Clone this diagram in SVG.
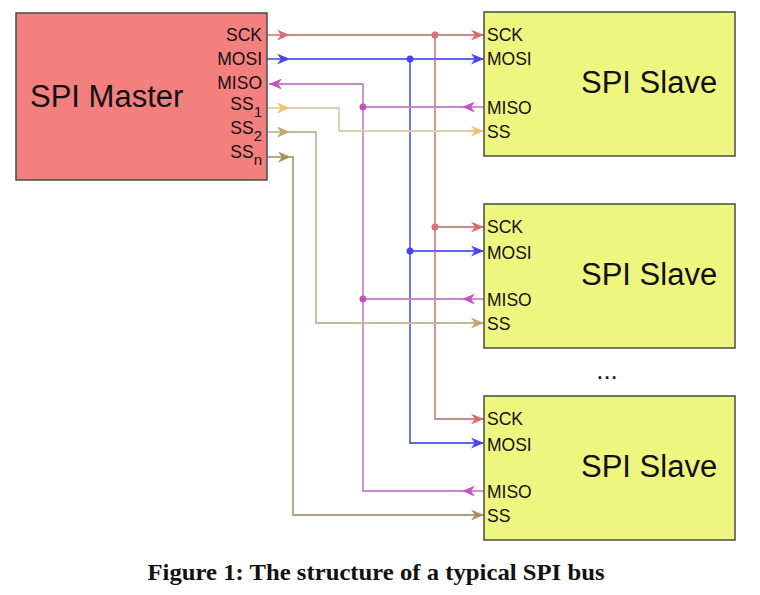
<svg xmlns="http://www.w3.org/2000/svg" width="760" height="595" viewBox="0 0 760 595">
<style>
.box{stroke:#4a4a4a;stroke-width:1.5}
.master{fill:#f47f7f}
.slave{fill:#eef67f}
.lbl{font-family:"Liberation Sans",Arial,sans-serif;font-size:17.5px;fill:#111}
.big{font-family:"Liberation Sans",Arial,sans-serif;font-size:31px;fill:#111}
.cap{font-family:"Liberation Serif","Times New Roman",serif;font-size:23.5px;font-weight:bold;fill:#111}
.w{fill:none;stroke-width:1.8}
.sck{stroke:#cf8a8a}.mosi{stroke:#6464f0}.miso{stroke:#c68ac8}
.ss1{stroke:#dccfa6}.ss2{stroke:#c8b89a}.ssn{stroke:#b0a07e}
</style>
<defs>
<marker id="aSck" viewBox="0 0 12 10" refX="12" refY="5" markerWidth="13" markerHeight="11" markerUnits="userSpaceOnUse" orient="auto"><path d="M0,0 L12,5 L0,10 L3.5,5 z" fill="#d87272"/></marker>
<marker id="aMosi" viewBox="0 0 12 10" refX="12" refY="5" markerWidth="13" markerHeight="11" markerUnits="userSpaceOnUse" orient="auto"><path d="M0,0 L12,5 L0,10 L3.5,5 z" fill="#4646f5"/></marker>
<marker id="aMiso" viewBox="0 0 12 10" refX="12" refY="5" markerWidth="13" markerHeight="11" markerUnits="userSpaceOnUse" orient="auto"><path d="M0,0 L12,5 L0,10 L3.5,5 z" fill="#c452c6"/></marker>
<marker id="aSs1" viewBox="0 0 12 10" refX="12" refY="5" markerWidth="13" markerHeight="11" markerUnits="userSpaceOnUse" orient="auto"><path d="M0,0 L12,5 L0,10 L3.5,5 z" fill="#efc472"/></marker>
<marker id="aSs2" viewBox="0 0 12 10" refX="12" refY="5" markerWidth="13" markerHeight="11" markerUnits="userSpaceOnUse" orient="auto"><path d="M0,0 L12,5 L0,10 L3.5,5 z" fill="#c4a46e"/></marker>
<marker id="aSsn" viewBox="0 0 12 10" refX="12" refY="5" markerWidth="13" markerHeight="11" markerUnits="userSpaceOnUse" orient="auto"><path d="M0,0 L12,5 L0,10 L3.5,5 z" fill="#a89060"/></marker>
</defs>

<g id="connectors">
  <!-- SCK -->
  <path class="w sck" d="M267,35 H290" marker-end="url(#aSck)"/>
  <path class="w sck" d="M290,35 H484" marker-end="url(#aSck)"/>
  <path class="w sck" d="M435,35 V419 H484" marker-end="url(#aSck)"/>
  <path class="w sck" d="M435,227 H484" marker-end="url(#aSck)"/>
  <circle cx="435" cy="35" r="3.5" fill="#d87272"/>
  <circle cx="435" cy="227" r="3.5" fill="#d87272"/>
  <!-- MOSI -->
  <path class="w mosi" d="M267,59 H290" marker-end="url(#aMosi)"/>
  <path class="w mosi" d="M290,59 H484" marker-end="url(#aMosi)"/>
  <path class="w mosi" d="M410,59 V443 H484" marker-end="url(#aMosi)"/>
  <path class="w mosi" d="M410,251 H484" marker-end="url(#aMosi)"/>
  <circle cx="410" cy="59" r="3.5" fill="#4646f5"/>
  <circle cx="410" cy="251" r="3.5" fill="#4646f5"/>
  <!-- MISO -->
  <path class="w miso" d="M484,107 H462" marker-end="url(#aMiso)"/>
  <path class="w miso" d="M462,107 H363"/>
  <path class="w miso" d="M484,299 H462" marker-end="url(#aMiso)"/>
  <path class="w miso" d="M462,299 H363"/>
  <path class="w miso" d="M484,491 H462" marker-end="url(#aMiso)"/>
  <path class="w miso" d="M462,491 H363 V84 H269" marker-end="url(#aMiso)"/>
  <circle cx="363" cy="107" r="3.5" fill="#c452c6"/>
  <circle cx="363" cy="299" r="3.5" fill="#c452c6"/>
  <!-- SS1 -->
  <path class="w ss1" d="M267,108 H290" marker-end="url(#aSs1)"/>
  <path class="w ss1" d="M290,108 H339 V131 H484" marker-end="url(#aSs1)"/>
  <!-- SS2 -->
  <path class="w ss2" d="M267,132 H290" marker-end="url(#aSs2)"/>
  <path class="w ss2" d="M290,132 H316 V323 H484" marker-end="url(#aSs2)"/>
  <!-- SSn -->
  <path class="w ssn" d="M267,157 H291" marker-end="url(#aSsn)"/>
  <path class="w ssn" d="M291,157 H293 V515 H484" marker-end="url(#aSsn)"/>
</g>

<g id="master">
  <rect class="box master" x="16" y="13" width="251" height="167"/>
  <text class="big" x="30" y="107">SPI Master</text>
  <text class="lbl" x="262" y="41" text-anchor="end">SCK</text>
  <text class="lbl" x="262" y="65" text-anchor="end">MOSI</text>
  <text class="lbl" x="262" y="89" text-anchor="end">MISO</text>
  <text class="lbl" x="262" y="110" text-anchor="end">SS<tspan dy="7" font-size="15">1</tspan></text>
  <text class="lbl" x="262" y="134" text-anchor="end">SS<tspan dy="7" font-size="15">2</tspan></text>
  <text class="lbl" x="262" y="158" text-anchor="end">SS<tspan dy="7" font-size="15">n</tspan></text>
</g>

<g id="slave1">
  <rect class="box slave" x="484" y="12" width="251" height="144"/>
  <text class="big" x="581" y="93">SPI Slave</text>
  <text class="lbl" x="487" y="41">SCK</text>
  <text class="lbl" x="487" y="65">MOSI</text>
  <text class="lbl" x="487" y="114">MISO</text>
  <text class="lbl" x="487" y="138">SS</text>
</g>

<g id="slave2">
  <rect class="box slave" x="484" y="204" width="251" height="144"/>
  <text class="big" x="581" y="285">SPI Slave</text>
  <text class="lbl" x="487" y="233">SCK</text>
  <text class="lbl" x="487" y="259">MOSI</text>
  <text class="lbl" x="487" y="306">MISO</text>
  <text class="lbl" x="487" y="330">SS</text>
</g>

<g id="slave3">
  <rect class="box slave" x="484" y="396" width="251" height="144"/>
  <text class="big" x="581" y="477">SPI Slave</text>
  <text class="lbl" x="487" y="425">SCK</text>
  <text class="lbl" x="487" y="451">MOSI</text>
  <text class="lbl" x="487" y="498">MISO</text>
  <text class="lbl" x="487" y="522">SS</text>
</g>

<text x="607" y="379" text-anchor="middle" font-family="Liberation Sans, Arial, sans-serif" font-size="26" fill="#111">...</text>
<text class="cap" x="376" y="580" text-anchor="middle" textLength="457" lengthAdjust="spacingAndGlyphs">Figure 1: The structure of a typical SPI bus</text>
</svg>
